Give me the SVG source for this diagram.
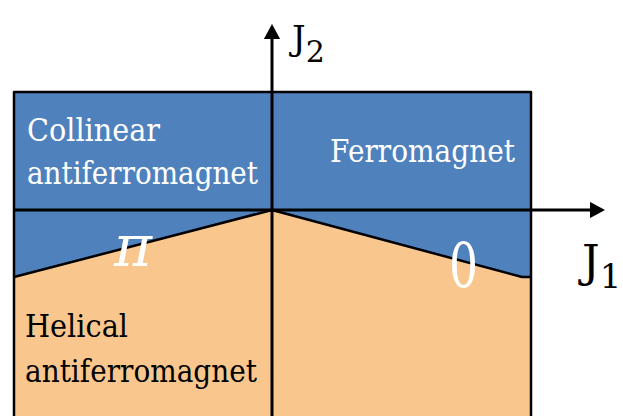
<svg xmlns="http://www.w3.org/2000/svg" width="623" height="416" viewBox="0 0 623 416">
<style>
text{font-family:'DejaVu Serif',serif;}
.w{fill:#ffffff;}
.k{fill:#000000;}
.ax{stroke:#000;stroke-width:3;fill:none;}
.bd{stroke:#000;stroke-width:2.5;fill:none;stroke-linejoin:round;}
</style>
<defs>
<marker id="ah" markerWidth="5" markerHeight="5.4" refX="0" refY="2.7" orient="auto" markerUnits="strokeWidth">
<path d="M0,0 L5,2.7 L0,5.4 Z" fill="#000"/>
</marker>
</defs>
<g id="blue-region">
<polygon points="14,92 531,92 531,277 522,277 272,210 14,277" fill="#4F81BD"/>
</g>
<g id="helical-region">
<polygon points="14,277 272,210 522,277 531,277 531,416 14,416" fill="#F9C78E"/>
</g>
<g id="frame">
<polyline points="14,416 14,92 531,92 531,416" class="bd" stroke-width="2"/>
<polyline points="14,277 272,210 522,277 531,277" class="bd"/>
</g>
<g id="connectors">
<line x1="14" y1="210" x2="590" y2="210" class="ax" marker-end="url(#ah)"/>
<line x1="272" y1="416" x2="272" y2="39" class="ax" marker-end="url(#ah)"/>
</g>
<g id="collinear">
<text class="w" x="27" y="141" font-size="31" textLength="133" lengthAdjust="spacingAndGlyphs">Collinear</text>
<text class="w" x="27" y="184" font-size="31" textLength="231" lengthAdjust="spacingAndGlyphs">antiferromagnet</text>
</g>
<g id="ferromagnet">
<text class="w" x="330" y="162" font-size="31" textLength="185" lengthAdjust="spacingAndGlyphs">Ferromagnet</text>
</g>
<g id="helical">
<text class="k" x="25" y="337" font-size="31" textLength="103" lengthAdjust="spacingAndGlyphs">Helical</text>
<text class="k" x="25" y="382" font-size="31" textLength="232" lengthAdjust="spacingAndGlyphs">antiferromagnet</text>
</g>
<g id="pi-label">
<text class="w" x="114" y="266" font-size="58" font-style="italic" textLength="38" lengthAdjust="spacingAndGlyphs">π</text>
</g>
<g id="zero-label">
<text class="w" x="449" y="287" font-size="62" textLength="29" lengthAdjust="spacingAndGlyphs">0</text>
</g>
<g id="j1-label">
<text class="k" x="582" y="277" font-size="44">J<tspan font-size="34" dy="11">1</tspan></text>
</g>
<g id="j2-label">
<text class="k" x="292" y="50" font-size="34">J<tspan font-size="30" dy="12">2</tspan></text>
</g>
</svg>
